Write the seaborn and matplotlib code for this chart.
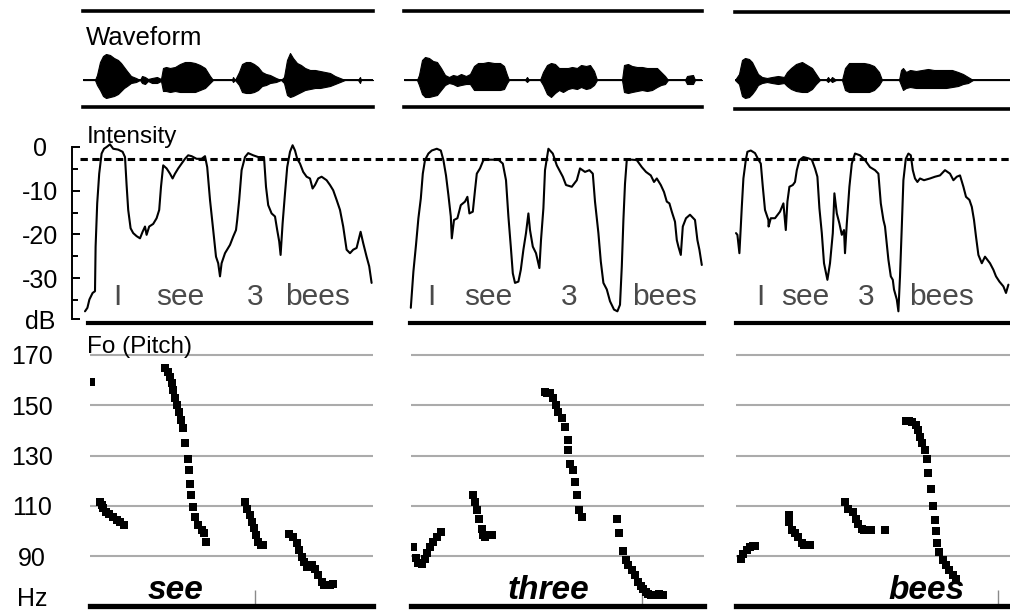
import matplotlib
matplotlib.use("Agg")
import matplotlib.pyplot as plt
import numpy as np
import pandas as pd
import seaborn as sns

# ------------------------------------------------------------------ data
# time axis: ms from the start of each utterance window (three utterances)
focus_words = ["see", "three", "bees"]
sentence_words = ["I", "see", "3", "bees"]
sentence_word_ms = [[170, 485, 860, 1175], [135, 420, 825, 1305], [135, 360, 665, 1045]]
focus_word_ms = [465, 720, 970]
boundary_ms = [860, 1190, 1325]

int_ticks = [0, -10, -20, -30, -39.4]
int_tick_labels = ["0", "-10", "-20", "-30", "dB"]
int_minor_ticks = [-5, -15, -25, -35]
ref_db = -2.75

pitch_ticks = [170, 150, 130, 110, 90]
pitch_tick_labels = ["170", "150", "130", "110", "90"]
pitch_unit_hz = 73.7

# waveform envelopes: (ms, upper amplitude, lower amplitude)
wave1 = [(0, 0, 0), (60, 0, 0), (70, 5, 5), (85, 18, 10), (100, 24, 16), (115, 26, 18), (135, 25, 17),
         (155, 22, 16), (175, 20, 14), (190, 17, 11), (205, 13, 8), (220, 9, 6), (240, 4, 3), (265, 2, 2),
         (285, 0, 0), (295, 4, 3), (310, 3, 4), (325, 1, 1), (345, 2, 3), (370, 3, 3), (390, 1, 1),
         (400, 12, 11), (415, 13, 11), (435, 12, 12), (460, 13, 11), (485, 16, 12), (510, 18, 12),
         (535, 18, 12), (560, 17, 12), (585, 15, 10), (610, 12, 8), (635, 4, 3), (650, 0, 0), (745, 0, 0),
         (750, 3, 2), (760, 0, 0), (780, 8, 5), (795, 16, 12), (815, 18, 13), (835, 18, 13), (855, 16, 12),
         (875, 13, 10), (895, 8, 6), (915, 6, 5), (935, 5, 3), (965, 2, 2), (990, 0, 0), (1005, 3, 3),
         (1020, 20, 15), (1035, 27, 17), (1050, 22, 16), (1070, 17, 14), (1090, 15, 12), (1110, 12, 10),
         (1135, 10, 9), (1160, 10, 8), (1185, 9, 8), (1210, 8, 7), (1235, 7, 6), (1260, 4, 4), (1285, 2, 2),
         (1310, 0, 0), (1375, 0, 0), (1385, 3, 3), (1390, 0, 0), (1450, 0, 0)]
wave2 = [(0, 0, 0), (65, 0, 0), (75, 5, 5), (90, 20, 14), (105, 23, 17), (125, 22, 17), (145, 19, 16),
         (165, 18, 15), (185, 12, 10), (205, 5, 5), (225, 3, 3), (245, 5, 4), (265, 4, 6), (285, 6, 5),
         (310, 4, 4), (330, 6, 4), (350, 14, 10), (370, 17, 10), (395, 17, 10), (420, 18, 10), (450, 17, 10),
         (480, 17, 10), (500, 14, 9), (515, 5, 3), (525, 0, 0), (605, 0, 0), (615, 3, 2), (625, 0, 0),
         (680, 0, 0), (695, 8, 5), (715, 15, 14), (735, 17, 17), (755, 16, 13), (775, 12, 10), (795, 12, 12),
         (820, 12, 9), (840, 13, 8), (865, 12, 9), (885, 15, 7), (910, 14, 9), (930, 15, 8), (950, 9, 5),
         (965, 0, 0), (1090, 0, 0), (1100, 15, 12), (1120, 16, 13), (1140, 14, 12), (1165, 13, 11),
         (1190, 13, 10), (1215, 12, 11), (1240, 12, 10), (1265, 12, 7), (1285, 8, 5), (1305, 4, 4),
         (1320, 0, 0), (1405, 0, 0), (1415, 4, 4), (1445, 5, 4), (1455, 0, 0), (1490, 0, 0)]
wave3 = [(10, 0, 0), (30, 6, 4), (45, 20, 16), (60, 22, 18), (80, 21, 17), (95, 18, 14), (110, 12, 10),
         (125, 6, 5), (145, 3, 3), (170, 2, 2), (195, 3, 3), (225, 4, 4), (255, 3, 3), (270, 8, 6),
         (290, 12, 9), (315, 16, 11), (345, 18, 12), (370, 15, 12), (395, 12, 9), (415, 6, 4), (435, 0, 0),
         (465, 0, 0), (475, 3, 2), (485, 0, 0), (495, 3, 2), (515, 0, 0), (545, 0, 0), (560, 12, 10),
         (580, 17, 12), (605, 17, 12), (630, 17, 12), (655, 17, 12), (680, 16, 12), (705, 14, 10),
         (730, 8, 5), (745, 0, 0), (830, 0, 0), (840, 10, 5), (850, 12, 10), (865, 8, 8), (885, 10, 7),
         (915, 9, 8), (945, 10, 8), (975, 11, 8), (1005, 10, 8), (1035, 10, 8), (1065, 10, 8),
         (1095, 10, 7), (1125, 8, 6), (1150, 6, 4), (1175, 3, 3), (1200, 0, 0), (1385, 0, 0)]

# intensity (ms, dB)
int1 = [(10, -37.6), (22, -36.8), (32, -34.9), (48, -33.4), (60, -33.0), (63, -22.8), (71, -12.9),
        (81, -6.1), (93, -1.5), (105, -0.4), (118, 0.0), (135, 0.6), (151, -0.4), (176, -0.6), (198, -1.1),
        (210, -2.3), (218, -8.7), (226, -14.4), (238, -18.6), (251, -19.7), (268, -20.4), (285, -20.9),
        (298, -19.4), (310, -18.2), (318, -20.1), (331, -18.2), (351, -17.6), (368, -16.3), (381, -14.4),
        (390, -9.1), (401, -4.2), (418, -4.9), (435, -6.1), (448, -7.2), (460, -6.1), (476, -4.9),
        (493, -3.8), (510, -2.7), (526, -1.9), (543, -2.1), (568, -2.7), (593, -2.7), (610, -2.1),
        (621, -4.6), (635, -12.1), (651, -19.0), (665, -25.1), (676, -26.6), (685, -29.6), (693, -26.6),
        (710, -24.3), (735, -22.4), (751, -20.5), (765, -19.0), (771, -16.7), (781, -12.1), (793, -5.3),
        (810, -2.3), (826, -1.4), (851, -1.9), (876, -2.3), (905, -2.3), (915, -9.1), (926, -13.3),
        (943, -15.2), (960, -15.9), (971, -19.0), (981, -21.6), (988, -24.7), (998, -17.5), (1010, -10.6),
        (1021, -4.6), (1035, -1.1), (1048, 0.4), (1060, -0.8), (1071, -2.7), (1085, -3.8), (1101, -5.7),
        (1118, -6.8), (1135, -7.2), (1148, -9.5), (1160, -8.7), (1176, -7.2), (1193, -6.8), (1218, -7.6),
        (1235, -8.7), (1251, -9.9), (1268, -12.1), (1285, -14.4), (1301, -18.2), (1318, -23.5),
        (1335, -24.3), (1351, -23.5), (1368, -23.1), (1388, -19.4), (1401, -22.0), (1418, -25.1),
        (1431, -27.3), (1443, -31.1)]
int2 = [(34, -36.8), (47, -28.5), (60, -22.4), (72, -16.3), (84, -11.8), (94, -6.1), (105, -3.0),
        (122, -1.5), (139, -0.8), (164, -0.4), (184, -0.8), (197, -3.0), (210, -6.5), (222, -11.0),
        (234, -15.9), (239, -20.9), (250, -16.7), (267, -16.3), (284, -13.3), (305, -12.5), (317, -11.4),
        (327, -15.2), (344, -14.8), (355, -9.9), (364, -6.1), (380, -4.9), (397, -3.0), (430, -2.9),
        (472, -2.9), (494, -3.8), (510, -7.6), (522, -15.9), (534, -22.8), (544, -28.9), (555, -31.1),
        (572, -30.8), (584, -28.1), (597, -23.5), (610, -19.7), (622, -15.2), (630, -19.0), (644, -22.8),
        (660, -24.3), (677, -27.7), (685, -21.3), (697, -14.0), (705, -5.3), (722, -0.4), (744, -1.5),
        (764, -4.2), (794, -6.8), (810, -8.7), (839, -9.1), (864, -7.6), (880, -4.9), (905, -5.7),
        (927, -5.3), (944, -6.1), (955, -12.5), (972, -19.7), (984, -26.2), (997, -31.1), (1014, -32.6),
        (1030, -35.3), (1050, -37.2), (1067, -37.6), (1080, -36.1), (1089, -27.3), (1097, -16.7),
        (1105, -8.4), (1114, -2.9), (1139, -2.9), (1164, -3.0), (1189, -4.6), (1210, -5.7), (1234, -6.5),
        (1250, -8.0), (1264, -7.2), (1284, -8.7), (1300, -10.3), (1314, -12.5), (1327, -12.9),
        (1339, -14.8), (1355, -17.1), (1364, -21.3), (1372, -22.8), (1384, -24.7), (1394, -18.2),
        (1410, -16.3), (1430, -15.5), (1455, -16.7), (1467, -21.3), (1477, -23.5), (1489, -27.0)]
int3 = [(15, -19.7), (22, -20.1), (32, -24.3), (39, -18.2), (44, -13.7), (52, -7.2), (64, -3.0),
        (72, -1.1), (89, -0.8), (110, -1.4), (127, -2.9), (139, -3.8), (149, -9.1), (160, -14.4),
        (177, -16.7), (178, -18.2), (189, -16.3), (210, -16.3), (235, -14.8), (252, -12.9), (264, -19.0),
        (272, -12.5), (282, -9.1), (299, -8.7), (310, -8.0), (319, -5.3), (332, -3.0), (352, -2.3),
        (377, -2.6), (394, -2.9), (410, -4.9), (422, -6.8), (432, -14.0), (444, -19.7), (455, -26.6),
        (472, -30.4), (485, -26.6), (499, -19.7), (507, -10.6), (519, -15.2), (532, -17.5), (544, -20.1),
        (555, -19.0), (560, -24.3), (569, -17.5), (582, -9.1), (594, -3.8), (610, -1.5), (635, -1.9),
        (660, -3.0), (685, -4.6), (710, -5.3), (727, -6.1), (739, -12.9), (752, -16.7), (760, -18.2),
        (777, -25.8), (789, -29.6), (799, -30.4), (805, -32.6), (819, -34.9), (827, -37.6), (835, -29.6),
        (844, -18.2), (852, -7.6), (864, -2.7), (877, -1.5), (889, -1.9), (899, -5.3), (910, -7.2),
        (922, -8.0), (935, -7.2), (955, -7.6), (985, -7.2), (1010, -6.8), (1035, -6.5), (1060, -5.3),
        (1085, -6.1), (1102, -7.6), (1119, -6.8), (1135, -6.5), (1152, -9.1), (1165, -11.4),
        (1182, -12.1), (1194, -13.7), (1205, -16.7), (1215, -20.5), (1227, -24.7), (1244, -26.6),
        (1260, -25.1), (1285, -26.6), (1302, -28.1), (1315, -29.6), (1332, -30.8), (1352, -31.9),
        (1365, -33.4), (1377, -31.5)]

# fundamental frequency samples (ms, Hz)
f0_1 = [(38, 159.4),
        (85, 111.6), (94, 110.3), (102, 109.0), (115, 107.6), (132, 106.7), (152, 105.6), (168, 104.5),
        (185, 103.6), (205, 102.5),
        (410, 164.7), (424, 163.4), (435, 161.4), (444, 158.7), (452, 156.1), (460, 152.7), (468, 150.1),
        (482, 147.4), (490, 144.1), (498, 140.8), (510, 134.8), (524, 128.8), (532, 124.2), (535, 118.6),
        (538, 114.2), (548, 109.6), (560, 105.6), (577, 102.3), (594, 100.3), (605, 99.0), (615, 95.4),
        (810, 111.6), (819, 108.9), (835, 106.3), (847, 103.6), (855, 101.0), (865, 98.3), (877, 95.6),
        (890, 94.5), (902, 94.3),
        (1032, 98.7), (1052, 97.4), (1069, 95.0), (1082, 92.3), (1094, 89.7), (1105, 87.7), (1119, 85.7),
        (1132, 86.5), (1144, 86.3), (1160, 85.0), (1177, 82.4), (1194, 79.7), (1205, 78.6), (1219, 78.4),
        (1235, 78.4), (1252, 79.0)]
f0_2 = [(47, 93.6), (60, 89.4), (72, 87.4), (89, 86.7), (105, 88.7), (114, 91.0), (130, 93.6),
        (147, 95.6), (167, 97.6), (184, 99.6),
        (347, 114.2), (355, 111.6), (364, 108.2), (375, 104.9), (389, 100.9), (397, 98.5), (405, 97.6),
        (418, 98.3), (430, 98.3), (442, 98.3),
        (705, 155.4), (717, 155.0), (730, 154.7), (747, 152.7), (760, 150.1), (772, 147.4), (789, 144.8),
        (805, 141.4), (822, 136.1), (822, 132.2), (830, 126.8), (844, 124.2), (855, 119.5), (867, 114.2),
        (877, 108.2), (889, 105.6),
        (1067, 104.7), (1077, 99.2), (1094, 91.9), (1110, 88.6), (1122, 86.3), (1139, 84.6), (1155, 82.4),
        (1172, 79.7), (1185, 78.0), (1197, 77.0), (1210, 75.8), (1222, 75.0), (1235, 74.6), (1247, 74.4),
        (1262, 74.6), (1277, 75.0), (1294, 74.4)]
f0_3 = [(39, 89.0), (52, 90.7), (69, 92.3), (85, 93.6), (98, 93.8), (110, 93.9),
        (282, 106.3), (282, 104.8), (282, 103.6), (294, 100.3), (310, 99.2), (327, 97.6), (344, 95.0),
        (357, 94.3), (369, 94.3), (385, 94.3),
        (560, 111.6), (577, 108.9), (599, 107.6), (615, 104.9), (627, 102.9), (644, 100.9), (657, 100.5),
        (669, 100.5), (689, 100.5), (760, 100.5),
        (865, 143.8), (880, 143.6), (894, 143.4), (915, 142.1), (927, 140.1), (935, 137.5), (944, 134.8),
        (960, 132.2), (969, 128.8), (977, 122.9), (989, 116.5), (1002, 109.8), (1010, 104.5),
        (1015, 100.0), (1022, 95.0), (1032, 91.6), (1049, 88.3), (1065, 86.3), (1082, 84.3),
        (1099, 82.4), (1115, 81.0)]

waves = [wave1, wave2, wave3]
intensities = [int1, int2, int3]
f0s = [f0_1, f0_2, f0_3]

# ------------------------------------------------------------------ layout / style
W, H = 1010, 610
MS_PER_PX = 5
origins = [83, 404, 733]
wave_center = 80
wave_boxes = [(83, 11, 373, 107), (404, 11, 702, 107), (735, 12, 1010, 109)]
int_boxes = [(72, 135, 375, 323), (404, 135, 705, 323), (733, 135, 1010, 323)]
int_base_spans = [(25, 1440), (30, 1500), (15, 1385)]
pitch_boxes = [(90, 345, 373, 606), (411, 345, 704, 606), (736, 345, 1010, 606)]
int_zero_px, int_px_per_db = 147, 4.37
pitch_90_px, pitch_px_per_hz = 556, 2.5125

sns.set_theme(style="white")
plt.rcParams["font.family"] = ["Liberation Sans", "DejaVu Sans"]
plt.rcParams["lines.scale_dashes"] = False

fig = plt.figure(figsize=(W / 100, H / 100), dpi=100)
fig.patch.set_facecolor("white")


def add_ax(box, origin):
    l, t, r, b = box
    ax = fig.add_axes([l / W, 1 - b / H, (r - l) / W, (b - t) / H])
    ax.set_xlim((l - origin) * MS_PER_PX, (r - origin) * MS_PER_PX)
    ax.set_facecolor("none")
    for s in ax.spines.values():
        s.set_visible(False)
    ax.set_xticks([])
    ax.set_yticks([])
    return ax


BLACK = "black"
for c in range(3):
    O = origins[c]
    # --- waveform
    l, t, r, b = wave_boxes[c]
    axw = add_ax(wave_boxes[c], O)
    axw.set_ylim(-(b - wave_center), wave_center - t)
    wv = pd.DataFrame(waves[c], columns=["ms", "up", "down"])
    axw.fill_between(wv["ms"], wv["up"], -wv["down"], color=BLACK, lw=0.8)
    axw.axhline(0, color=BLACK, lw=1.4)
    for side in ("top", "bottom"):
        axw.spines[side].set_visible(True)
        axw.spines[side].set_linewidth(2.6)
        axw.spines[side].set_color(BLACK)
    if c == 0:
        axw.text(15, 35, "Waveform", fontsize=18.5, ha="left", va="baseline", color=BLACK)

    # --- intensity
    l, t, r, b = int_boxes[c]
    axi = add_ax(int_boxes[c], O)
    axi.set_ylim(-(b - int_zero_px) / int_px_per_db, (int_zero_px - t) / int_px_per_db)
    di = pd.DataFrame(intensities[c], columns=["ms", "db"])
    sns.lineplot(data=di, x="ms", y="db", ax=axi, color=BLACK, lw=1.5,
                 sort=False, estimator=None)
    axi.set_xlabel("")
    axi.set_ylabel("")
    axi.set_xticks([])
    axi.spines["bottom"].set_visible(True)
    axi.spines["bottom"].set_linewidth(3.0)
    axi.spines["bottom"].set_color(BLACK)
    axi.spines["bottom"].set_bounds(*int_base_spans[c])
    for w, x in zip(sentence_words, sentence_word_ms[c]):
        axi.text(x, -36.2, w, fontsize=21.5, ha="center", va="baseline", color="#4a4a4a")
    if c == 0:
        axi.set_yticks(int_ticks)
        axi.set_yticklabels(int_tick_labels)
        axi.set_yticks(int_minor_ticks, minor=True)
        axi.spines["left"].set_visible(True)
        axi.spines["left"].set_linewidth(1.4)
        axi.spines["left"].set_color(BLACK)
        axi.spines["left"].set_bounds(int_ticks[-1], int_ticks[0])
        axi.tick_params(axis="y", which="major", left=True, direction="in", length=5.8,
                        width=1.4, pad=23, labelsize=18, colors=BLACK)
        axi.tick_params(axis="y", which="minor", left=True, direction="in", length=4.3,
                        width=1.4, colors=BLACK)
        for lab in axi.get_yticklabels():
            lab.set_ha("center")
        axi.text(20, 0.98, "Intensity", fontsize=17.5, ha="left", va="baseline", color=BLACK)
        span_px = r - l
        axi.axhline(ref_db, xmin=8 / span_px, xmax=(W - l) / span_px, color=BLACK, lw=2.2,
                    ls=(0, (5.3, 3.2)), clip_on=False, zorder=1)

    # --- pitch
    l, t, r, b = pitch_boxes[c]
    axp = add_ax(pitch_boxes[c], O)
    axp.set_ylim(90 - (b - pitch_90_px) / pitch_px_per_hz, 90 + (pitch_90_px - t) / pitch_px_per_hz)
    for g in pitch_ticks:
        axp.axhline(g, color="#ababab", lw=1.5, zorder=0)
    dp = pd.DataFrame(f0s[c], columns=["ms", "hz"])
    sns.scatterplot(data=dp, x="ms", y="hz", ax=axp, color=BLACK, marker="s", s=30,
                    linewidth=0, zorder=3)
    axp.set_xlabel("")
    axp.set_ylabel("")
    axp.set_xticks([])
    axp.spines["bottom"].set_visible(True)
    axp.spines["bottom"].set_linewidth(3.8)
    axp.spines["bottom"].set_color(BLACK)
    axp.vlines(boundary_ms[c], axp.get_ylim()[0], 76.5, color="#8a8a8a", lw=1.0, zorder=2)
    axp.text(focus_word_ms[c], 72.9, focus_words[c], fontsize=24, fontweight="bold",
             fontstyle="italic", ha="center", va="baseline", color=BLACK, zorder=4)
    if c == 0:
        axp.set_yticks(pitch_ticks + [pitch_unit_hz])
        axp.set_yticklabels(pitch_tick_labels + ["Hz"])
        axp.tick_params(axis="y", left=True, length=0, pad=41.8, labelsize=18, colors=BLACK)
        for lab in axp.get_yticklabels():
            lab.set_ha("center")
        axp.text(20, 170.8, "Fo (Pitch)", fontsize=17.5, ha="left", va="baseline", color=BLACK)

fig.savefig("out.png", dpi=100, facecolor="white")
